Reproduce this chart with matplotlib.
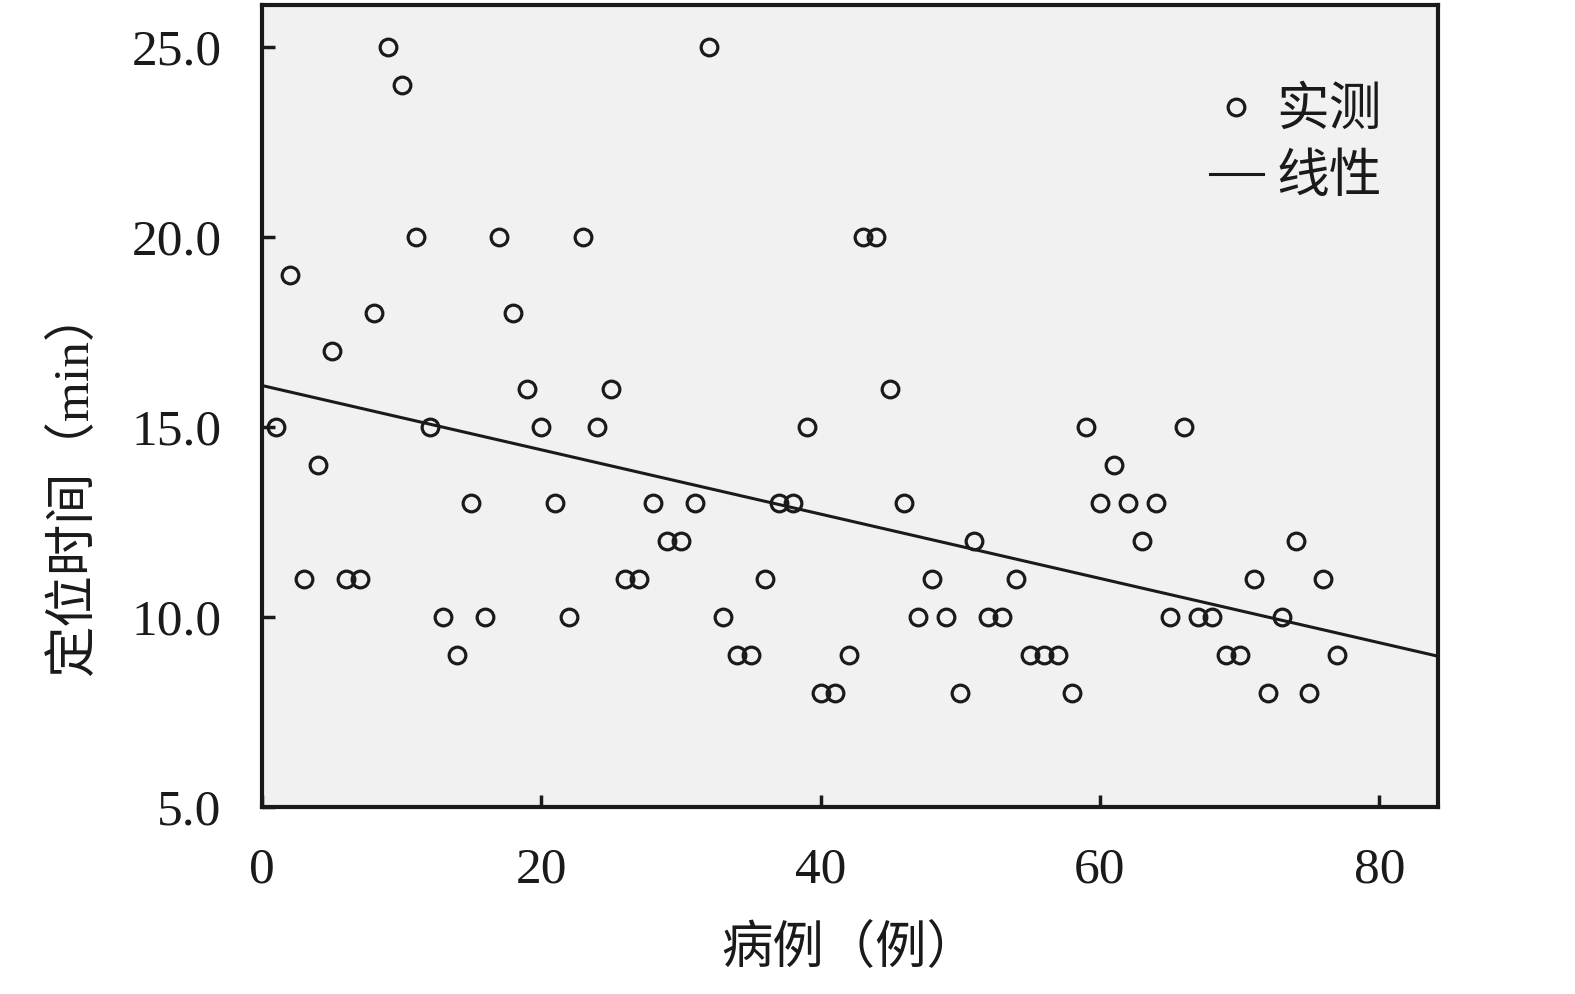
import numpy as np
import matplotlib
matplotlib.use('Agg')
import matplotlib.pyplot as plt

plt.rcParams['font.family'] = ['Liberation Serif', 'Noto Sans CJK SC', 'DejaVu Sans']

# 病例编号与定位时间
cases = np.arange(1, 78)
times = [15, 19, 11, 14, 17, 11, 11, 18, 25, 24,
         20, 15, 10, 9, 13, 10, 20, 18, 16, 15,
         13, 10, 20, 15, 16, 11, 11, 13, 12, 12,
         13, 25, 10, 9, 9, 11, 13, 13, 15, 8,
         8, 9, 20, 20, 16, 13, 10, 11, 10, 8,
         12, 10, 10, 11, 9, 9, 9, 8, 15, 13,
         14, 13, 12, 13, 10, 15, 10, 10, 9, 9,
         11, 8, 10, 12, 8, 11, 9]
xticks = [0, 20, 40, 60, 80]
yticks = [5.0, 10.0, 15.0, 20.0, 25.0]

xmax = 84.2
ymin, ymax = 5.0, 26.1

fig = plt.figure(figsize=(15.75, 9.94), dpi=100)
ax = fig.add_axes([0.1663, 0.188, 0.913 - 0.1663, 0.995 - 0.188])
ax.set_facecolor('#f1f1f1')

ax.plot(cases, times, 'o', mfc='none', mec='#1a1a1a', ms=12, mew=2.3, label='实测')

# 线性拟合
k, b = np.polyfit(cases, times, 1)
xl = np.array([0, xmax])
ax.plot(xl, k * xl + b, color='#1a1a1a', lw=2.2, label='线性')

ax.set_xlim(0, xmax)
ax.set_ylim(ymin, ymax)
ax.set_xticks(xticks)
ax.set_yticks(yticks)
ax.set_yticklabels(['%.1f' % v for v in yticks])
ax.tick_params(direction='in', length=9, width=2.5, labelsize=37, colors='#1a1a1a', pad=29)
for s in ax.spines.values():
    s.set_linewidth(3)
    s.set_color('#1a1a1a')

ax.set_xlabel('病例（例）', fontsize=37, color='#1a1a1a', va='center')
ax.set_ylabel('定位时间（min）', fontsize=37, color='#1a1a1a', va='center')
ax.xaxis.set_label_coords(0.5, -0.178)
ax.yaxis.set_label_coords(-0.16, 0.405)

leg = ax.legend(loc='upper right', bbox_to_anchor=(0.952, 0.897), frameon=False,
                fontsize=38, handlelength=1.0, handletextpad=0.25,
                labelspacing=0.35, borderpad=0, borderaxespad=0)
for t in leg.get_texts():
    t.set_color('#1a1a1a')

fig.savefig('out.png', dpi=100)
